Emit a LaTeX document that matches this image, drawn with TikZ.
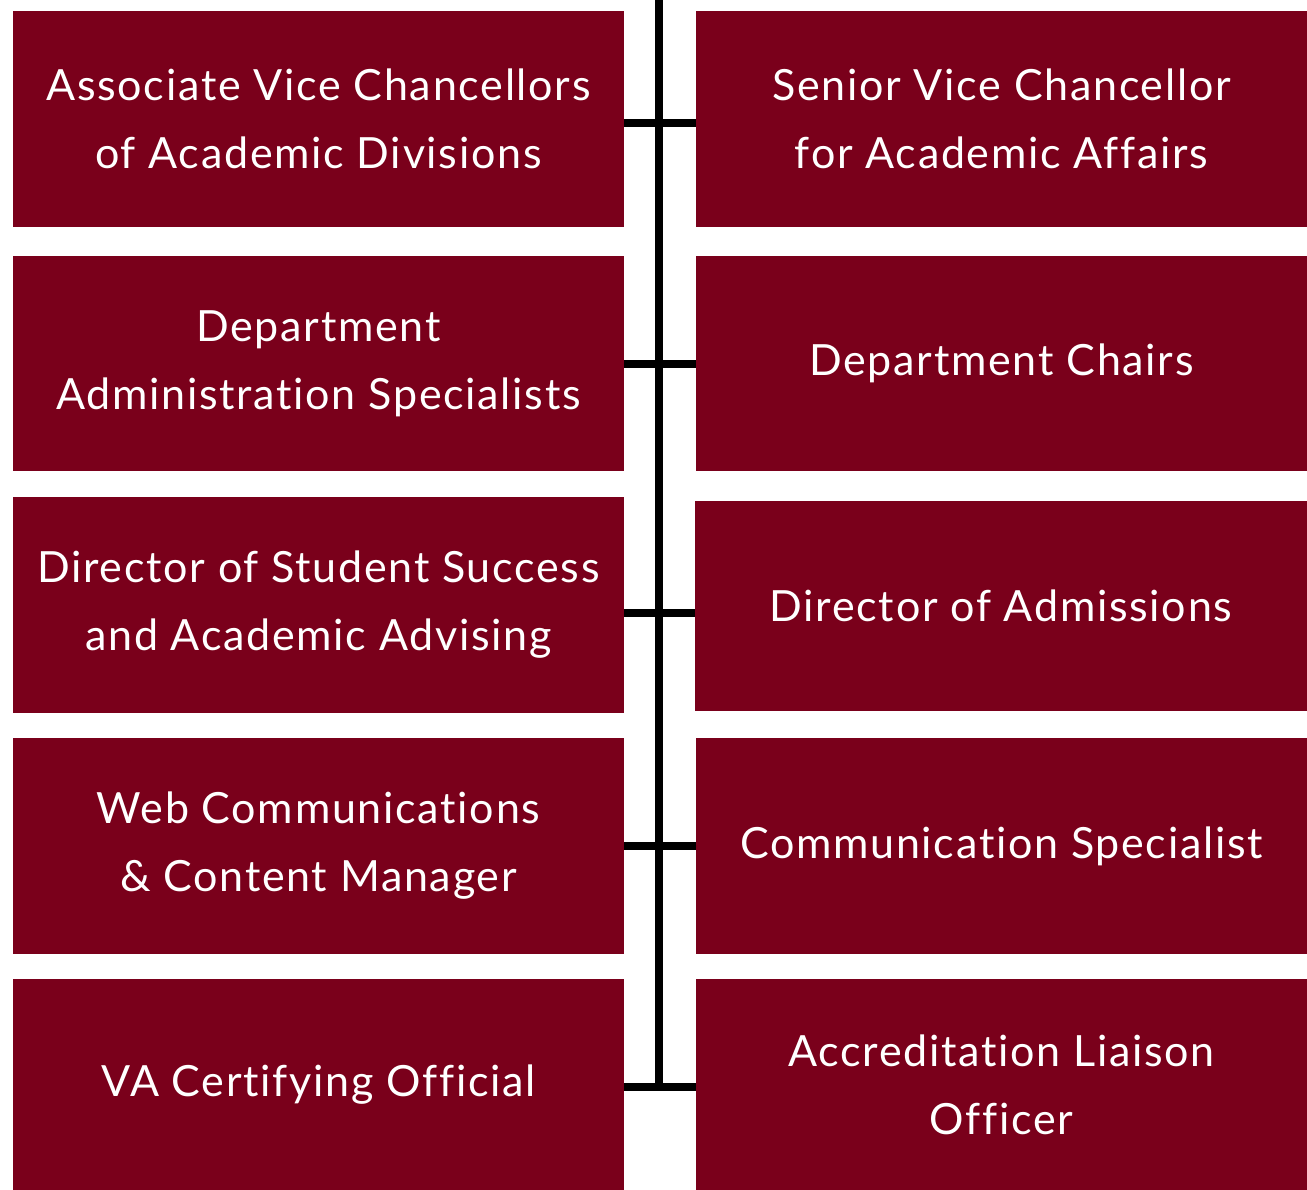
\documentclass[tikz,border=0pt]{standalone}
\usepackage{fontspec}
\setmainfont[LetterSpace=4,Ligatures={NoCommon}]{Lato}
\definecolor{maroon}{HTML}{7A001B}
\begin{document}
\begin{tikzpicture}[x=1pt,y=-1pt,
  box/.style={fill=maroon, draw=none, inner sep=0pt, text=white, align=center,
    font=\fontsize{43}{68}\selectfont},
  link/.style={line width=8pt, black}]
\useasboundingbox (0,0) rectangle (1307,1190);
% left column
\node[box, minimum width=611pt, minimum height=216pt] (L1) at (318.5,119) {Associate Vice Chancellors\\of Academic Divisions};
\node[box, minimum width=611pt, minimum height=215pt] (L2) at (318.5,363.5) {Department\\Administration Specialists};
\node[box, minimum width=611pt, minimum height=216pt] (L3) at (318.5,605) {Director of Student Success\\and Academic Advising};
\node[box, minimum width=611pt, minimum height=216pt] (L4) at (318.5,846) {Web Communications\\\& Content Manager};
\node[box, minimum width=611pt, minimum height=211pt] (L5) at (318.5,1084.5) {VA Certifying Official};
% right column
\node[box, minimum width=611pt, minimum height=216pt] (R1) at (1001.5,119) {Senior Vice Chancellor\\for Academic Affairs};
\node[box, minimum width=611pt, minimum height=215pt] (R2) at (1001.5,363.5) {Department Chairs};
\node[box, minimum width=612pt, minimum height=210pt] (R3) at (1001,606) {Director of Admissions};
\node[box, minimum width=611pt, minimum height=216pt] (R4) at (1001.5,846) {Communication Specialist};
\node[box, minimum width=611pt, minimum height=211pt] (R5) at (1001.5,1084.5) {Accreditation Liaison\\Officer};
% spine
\coordinate (top) at (659,0);
\coordinate (s1) at (659,123.5);
\coordinate (s2) at (659,364);
\coordinate (s3) at (659,612.5);
\coordinate (s4) at (659,846);
\coordinate (s5) at (659,1087);
\draw[link] (top) -- ([yshift=4pt]s5);
\draw[link] (L1.east |- s1) -- (R1.west |- s1);
\draw[link] (L2.east |- s2) -- (R2.west |- s2);
\draw[link] (L3.east |- s3) -- (R3.west |- s3);
\draw[link] (L4.east |- s4) -- (R4.west |- s4);
\draw[link] (L5.east |- s5) -- (R5.west |- s5);
\end{tikzpicture}
\end{document}
